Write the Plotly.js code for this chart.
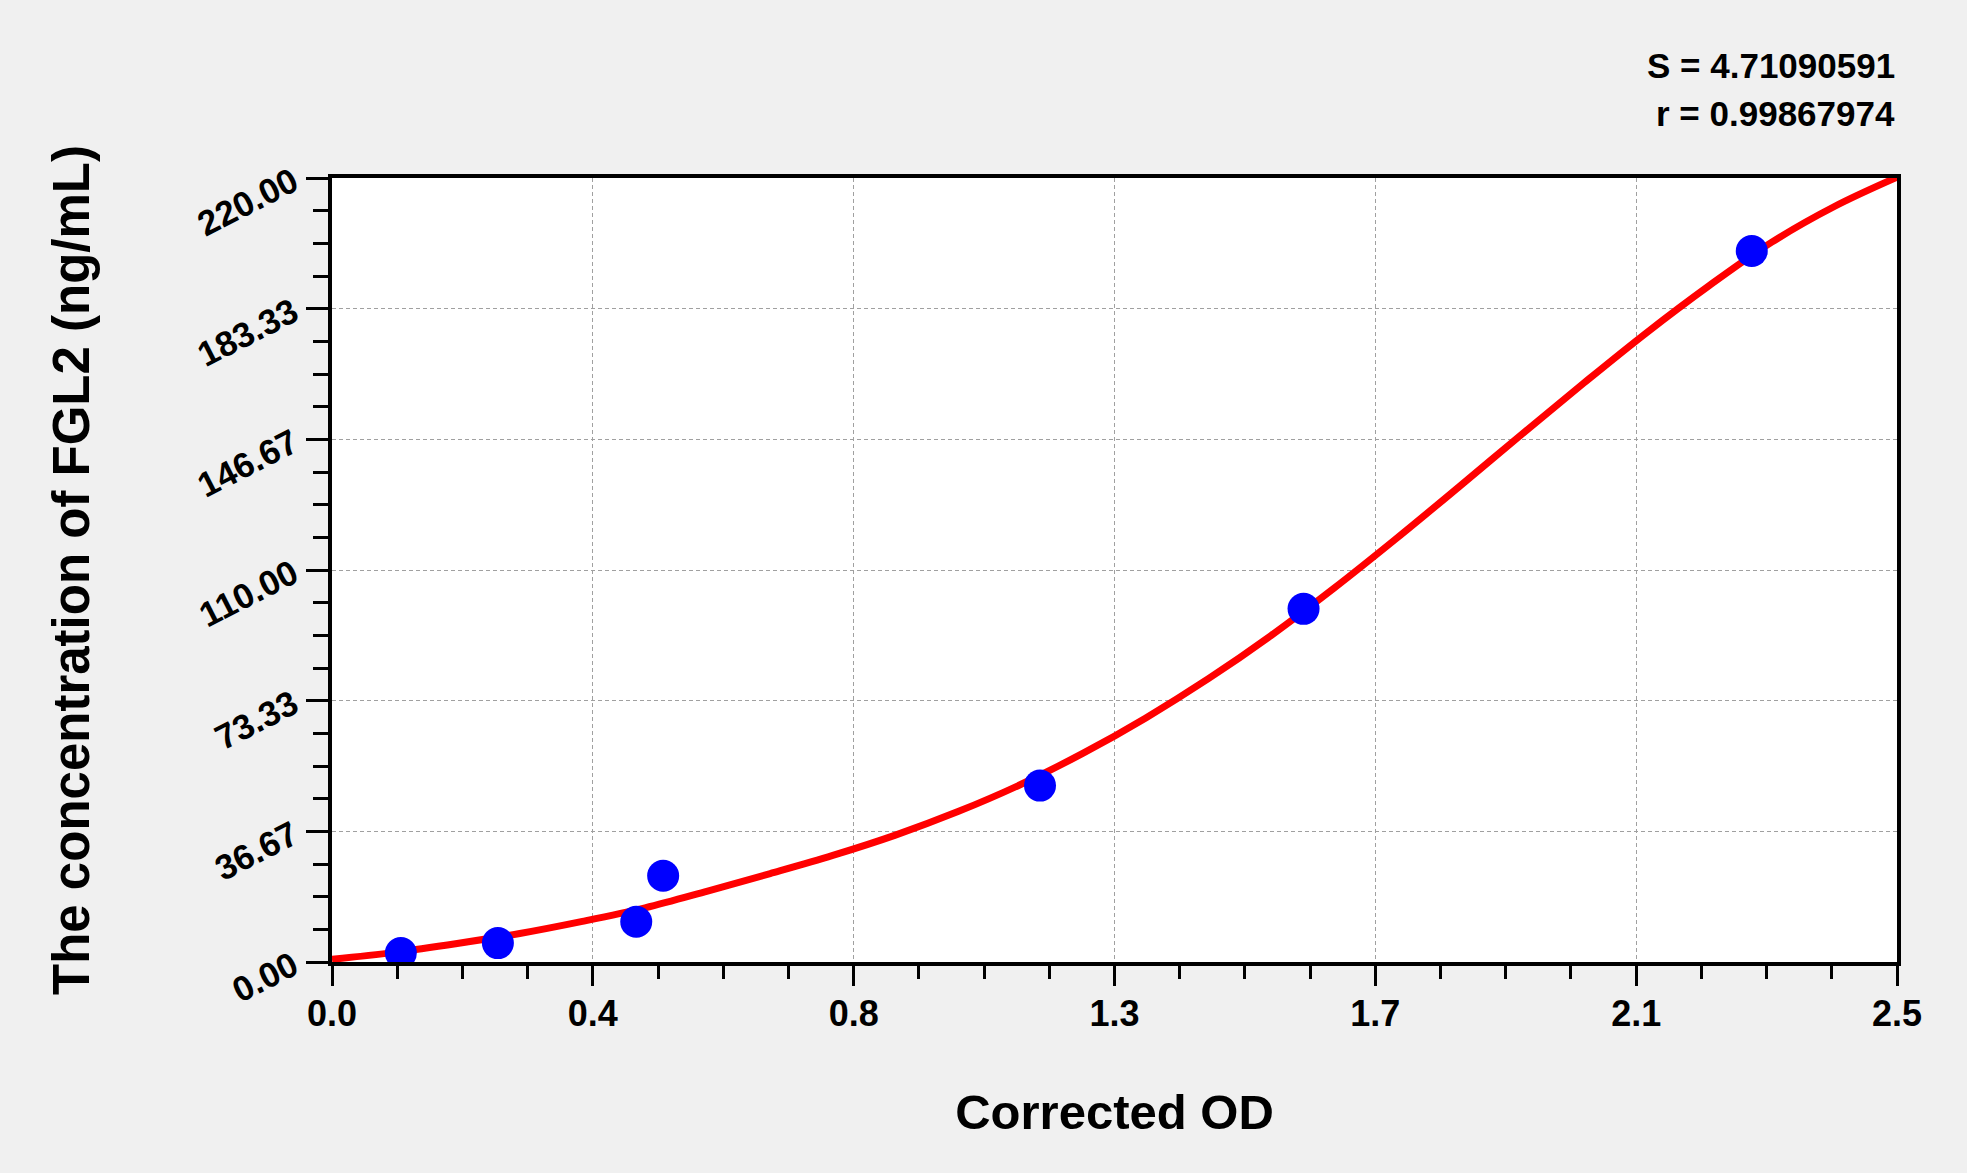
<!DOCTYPE html>
<html>
<head>
<meta charset="utf-8">
<script src="https://cdn.plot.ly/plotly-3.0.1.min.js"></script>
<style>
  html, body { margin: 0; padding: 0; background: #F0F0F0; }
  #chart { width: 1967px; height: 1173px; }
</style>
</head>
<body>
<div id="chart"></div>
<script>
// Measured standards (Corrected OD vs concentration)
const standardOD = [0.11, 0.265, 0.486, 0.529, 1.131, 1.552, 2.268];
const standardConc = [2.5, 5.3, 11.3, 24.2, 49.5, 99.1, 199.5];

// Fitted curve
const curveOD = [0, 0.1, 0.2, 0.3, 0.4, 0.5, 0.6, 0.7, 0.8, 0.9, 1.0, 1.1, 1.2, 1.3, 1.4, 1.5, 1.6, 1.7, 1.8, 1.9, 2.0, 2.1, 2.2, 2.3, 2.4, 2.5];
const curveConc = [0.75, 2.7, 5.2, 8.0, 11.4, 15.2, 19.9, 24.8, 29.9, 35.6, 42.2, 49.8, 58.6, 68.5, 79.5, 91.6, 104.8, 118.8, 133.3, 148.0, 162.5, 176.6, 189.8, 202.0, 212.0, 220.2];

// Tick labels
const xTickLabels = ['0.0', '0.4', '0.8', '1.3', '1.7', '2.1', '2.5'];
const yTickLabels = ['0.00', '36.67', '73.33', '110.00', '146.67', '183.33', '220.00'];
const xMax = 2.5, yMax = 220;

const statS = 'S = 4.71090591';
const statR = 'r = 0.99867974';
const xTitle = 'Corrected OD';
const yTitle = 'The concentration of FGL2 (ng/mL)';

const xTickVals = xTickLabels.map((_, i) => i * xMax / (xTickLabels.length - 1));
const yTickVals = yTickLabels.map((_, i) => i * yMax / (yTickLabels.length - 1));

const FONT = 'Arial, "Liberation Sans", sans-serif';

const traces = [
  {
    x: curveOD, y: curveConc, type: 'scatter', mode: 'lines',
    line: { color: '#FF0000', width: 7, shape: 'spline', smoothing: 1 },
    hoverinfo: 'skip'
  },
  {
    x: standardOD, y: standardConc, type: 'scatter', mode: 'markers',
    marker: { color: '#0000FF', size: 32, line: { width: 0 } }
  }
];

const axisCommon = {
  showline: true, linecolor: '#000000', linewidth: 4, mirror: true,
  ticks: 'outside', tickcolor: '#000000', tickwidth: 3,
  showgrid: true, gridcolor: '#A0A0A0', gridwidth: 1, griddash: '4px,3px',
  zeroline: false,
  fixedrange: true
};

const layout = {
  width: 1967, height: 1173,
  paper_bgcolor: '#F0F0F0', plot_bgcolor: '#FFFFFF',
  margin: { l: 332, r: 70, t: 178, b: 211 },
  showlegend: false,
  xaxis: Object.assign({}, axisCommon, {
    range: [0, xMax],
    tickmode: 'array', tickvals: xTickVals, ticktext: xTickLabels,
    ticklen: 20, ticklabelstandoff: -3,
    tickfont: { family: FONT, size: 36, color: '#000000', weight: 'bold' },
    minor: { tickmode: 'linear', tick0: 0, dtick: xMax / 24, ticklen: 13, tickwidth: 3, tickcolor: '#000000', ticks: 'outside', showgrid: false },
    title: { text: xTitle, font: { family: FONT, size: 49, color: '#000000', weight: 'bold' }, standoff: 62 }
  }),
  yaxis: Object.assign({}, axisCommon, {
    range: [0, yMax],
    tickmode: 'array', tickvals: yTickVals, ticktext: yTickLabels,
    ticklen: 22, tickangle: -27, ticklabelstandoff: 6,
    tickfont: { family: FONT, size: 35, color: '#000000', weight: 'bold' },
    minor: { tickmode: 'linear', tick0: 0, dtick: yMax / 24, ticklen: 15, tickwidth: 3, tickcolor: '#000000', ticks: 'outside', showgrid: false },
    title: { text: yTitle, font: { family: FONT, size: 51, color: '#000000', weight: 'bold' }, standoff: 86 }
  }),
  annotations: [
    { text: statS, xref: 'paper', yref: 'paper', x: 1, y: 1, xanchor: 'right', yanchor: 'middle',
      yshift: 113, showarrow: false, font: { family: FONT, size: 35, color: '#000000', weight: 'bold' } },
    { text: statR, xref: 'paper', yref: 'paper', x: 1, y: 1, xanchor: 'right', yanchor: 'middle',
      yshift: 65, showarrow: false, font: { family: FONT, size: 35, color: '#000000', weight: 'bold' } }
  ]
};

Plotly.newPlot('chart', traces, layout, { staticPlot: true, displayModeBar: false });
</script>
</body>
</html>
